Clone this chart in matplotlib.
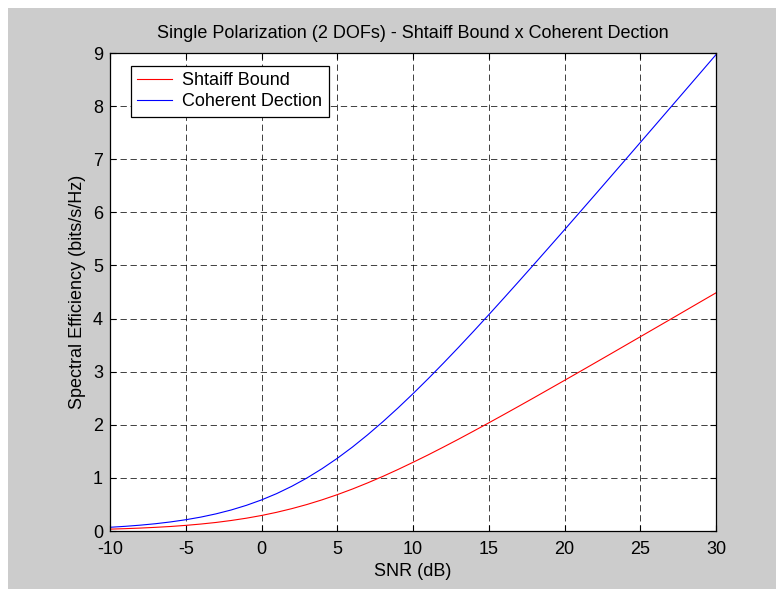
import matplotlib
matplotlib.use("Agg")
import matplotlib.pyplot as plt
from matplotlib.patches import Rectangle

snr_db = list(range(-10, 31))
coherent = [0.070, 0.088, 0.110, 0.137, 0.171, 0.212, 0.262, 0.323, 0.396, 0.483,
            0.585, 0.704, 0.842, 0.998, 1.174, 1.368, 1.580, 1.810, 2.055, 2.314,
            2.585, 2.867, 3.158, 3.456, 3.761, 4.071, 4.386, 4.704, 5.025, 5.348,
            5.672, 5.999, 6.326, 6.655, 6.984, 7.314, 7.644, 7.975, 8.306, 8.637,
            8.969]
shtaiff = [0.035, 0.044, 0.055, 0.069, 0.085, 0.106, 0.131, 0.161, 0.198, 0.241,
           0.292, 0.352, 0.421, 0.499, 0.587, 0.684, 0.790, 0.905, 1.027, 1.157,
           1.293, 1.433, 1.579, 1.728, 1.881, 2.036, 2.193, 2.352, 2.512, 2.674,
           2.836, 2.999, 3.163, 3.327, 3.492, 3.657, 3.822, 3.987, 4.153, 4.319,
           4.484]
xticks = [-10, -5, 0, 5, 10, 15, 20, 25, 30]
yticks = [0, 1, 2, 3, 4, 5, 6, 7, 8, 9]

plt.rcParams['font.family'] = ['Liberation Sans', 'DejaVu Sans']
plt.rcParams['axes.unicode_minus'] = False

FS = 13
W, H = 776, 589
fig = plt.figure(figsize=(W / 100, H / 100), dpi=100, facecolor='white')
fig.patches.append(Rectangle((8 / W, 0), 1 - 8 / W, 1 - 8 / H, transform=fig.transFigure,
                             facecolor='#cccccc', edgecolor='none', zorder=-10))

ax = fig.add_axes([110 / W, 58 / H, 606 / W, 478 / H])
ax.set_facecolor('white')
ax.plot(snr_db, shtaiff, color='#ff0000', lw=0.8, label='Shtaiff Bound')
ax.plot(snr_db, coherent, color='#0000ff', lw=0.8, label='Coherent Dection')
ax.set_xlim(-10, 30)
ax.set_ylim(0, 9)
ax.set_xticks(xticks)
ax.set_yticks(yticks)
ax.grid(True, color='black', linestyle=(0, (6.5, 3.8)), linewidth=0.7, alpha=0.75)
ax.tick_params(direction='in', top=True, right=True, length=4, width=0.8,
               labelsize=FS)
ax.tick_params(axis='x', pad=7)
ax.tick_params(axis='y', pad=5)
for s in ax.spines.values():
    s.set_linewidth(0.9)
ax.set_title('Single Polarization (2 DOFs) - Shtaiff Bound x Coherent Dection',
             fontsize=FS, pad=11)
ax.set_xlabel('SNR (dB)', fontsize=FS, labelpad=4)
ax.set_ylabel('Spectral Efficiency (bits/s/Hz)', fontsize=FS, labelpad=5)
leg = ax.legend(loc='upper left', bbox_to_anchor=(21 / 606, 1 - 13 / 478),
                fontsize=FS, fancybox=False, edgecolor='black', framealpha=1,
                handlelength=1.9, borderaxespad=0, labelspacing=0.22,
                handletextpad=0.6, borderpad=0.35)
leg.get_frame().set_linewidth(0.9)
for l in leg.get_lines():
    l.set_linewidth(0.8)

fig.savefig('out.png', dpi=100, facecolor=fig.get_facecolor())
